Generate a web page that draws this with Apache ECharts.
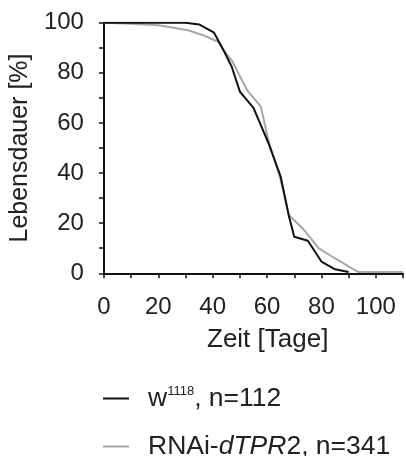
<!DOCTYPE html>
<html><head><meta charset="utf-8">
<script src="https://cdn.jsdelivr.net/npm/echarts@6/dist/echarts.min.js"></script>
<style>html,body{margin:0;padding:0;background:#fff}#c{width:406px;height:456px}</style>
</head><body><div id="c"></div>
<script>
const xTicks = [0, 20, 40, 60, 80, 100];
const yTicks = [0, 20, 40, 60, 80, 100];
const w1118Days = [0, 30, 35, 40.5, 44, 47, 50, 55, 60.5, 65, 68, 70, 75, 80, 85, 90];
const w1118Vals = [100, 100, 99.3, 96, 89, 82.4, 72.5, 66, 52, 38.6, 23, 14.6, 13, 4.7, 1.6, 0.5];
const rnaiDays = [0, 12, 20, 31, 36.5, 42, 44, 47, 52.7, 57.7, 60.5, 64.7, 68, 73, 79, 84, 93.6, 110];
const rnaiVals = [100, 99.5, 99, 97, 95, 92.4, 89, 85, 73, 66.5, 53, 38.6, 23.3, 18, 10, 6.6, 0.5, 0.5];

const font = 'Liberation Sans, Arial, sans-serif';
const txt = '#222';
const fs = 24;
const lfs = 26.5;
const legendText = {color: txt, fontSize: lfs, fontFamily: font, padding: [0, 0, 0, 14],
  rich: {
    sup: {fontSize: 13, verticalAlign: 'top', padding: [0, 0, 13, 0], fontFamily: font, color: txt},
    it: {fontSize: lfs, fontStyle: 'italic', fontFamily: font, color: txt}
  }};
const legendBase = {orient: 'horizontal', left: 103, padding: 0, icon: 'rect', itemWidth: 26, itemHeight: 2,
  textStyle: legendText,
  formatter: n => n === 'w1118' ? 'w{sup|1118}, n=112' : 'RNAi-{it|dTPR}2, n=341'};
const chart = echarts.init(document.getElementById('c'));
chart.setOption({
  animation: false,
  grid: {left: 103, top: 22.7, width: 306, height: 250.6, containLabel: false},
  xAxis: {
    type: 'value', min: 0, max: 110, interval: 10,
    axisLine: {show: true, lineStyle: {color: '#111', width: 2}},
    axisTick: {show: true, inside: false, length: 5, lineStyle: {color: '#111', width: 1.5}},
    splitLine: {show: false},
    axisLabel: {color: txt, fontSize: fs, fontFamily: font, margin: 22,
      formatter: v => xTicks.includes(v) ? String(v) : ''}
  },
  yAxis: {
    type: 'value', min: 0, max: 100, interval: 10,
    axisLine: {show: true, lineStyle: {color: '#111', width: 2}},
    axisTick: {show: true, inside: false, length: 5, lineStyle: {color: '#111', width: 1.5}},
    splitLine: {show: false},
    axisLabel: {color: txt, fontSize: fs, fontFamily: font, margin: 20,
      formatter: v => yTicks.includes(v) ? String(v) : ''},
    name: 'Lebensdauer [%]', nameLocation: 'middle', nameGap: 67,
    nameTextStyle: {color: txt, fontSize: 25, fontFamily: font}
  },
  graphic: [{type: 'text', left: 207, top: 327,
    style: {text: 'Zeit [Tage]', fontSize: 26, fontFamily: font, fill: txt}}],
  legend: [
    Object.assign({}, legendBase, {top: 385, data: ['w1118']}),
    Object.assign({}, legendBase, {top: 433, data: ['RNAi']})
  ],
  series: [
    {name: 'w1118', type: 'line', showSymbol: false, symbol: 'none',
     lineStyle: {color: '#111', width: 2}, itemStyle: {color: '#111'},
     data: w1118Days.map((d, i) => [d, w1118Vals[i]]), z: 3},
    {name: 'RNAi', type: 'line', showSymbol: false, symbol: 'none',
     lineStyle: {color: '#b2a29c', width: 2}, itemStyle: {color: '#b2a29c'},
     data: rnaiDays.map((d, i) => [d, rnaiVals[i]]), z: 2}
  ]
});
</script></body></html>
